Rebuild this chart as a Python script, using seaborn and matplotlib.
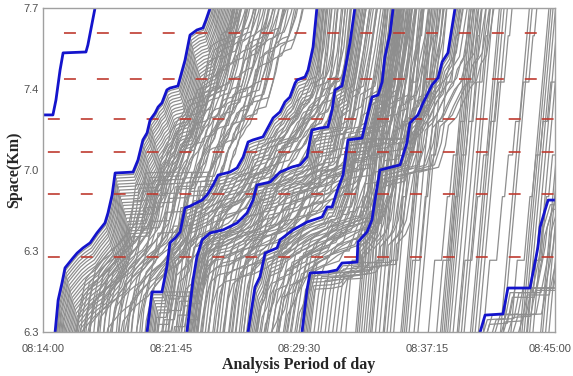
import matplotlib
matplotlib.use("Agg")
import pandas as pd
import matplotlib.pyplot as plt
import matplotlib.transforms as mtransforms
import seaborn as sns

# %%
# time axis: seconds after 08:14:00, space axis: km
x_ticks = [0, 465, 930, 1395, 1860]
x_labels = ["08:14:00", "08:21:45", "08:29:30", "08:37:15", "08:45:00"]
y_ticks = [6.3, 6.65, 7.0, 7.35, 7.7]
y_labels = ["6.3", "6.3", "7.0", "7.4", "7.7"]

# signal stop lines (km)
signals = [6.624, 6.896, 7.078, 7.220, 7.393, 7.592]

# highlighted vehicles (blue)
a_t = [0, 36, 47, 62, 73, 156, 163, 189, 210]
a_s = [7.238, 7.238, 7.302, 7.432, 7.506, 7.510, 7.540, 7.700, 7.85]

b_t = [20, 44, 55, 69, 80, 109, 124, 145, 171, 196, 225, 236, 251, 262, 327, 345,
       363, 378, 389, 407, 418, 432, 450, 461, 490, 516, 534, 559, 581, 592, 607, 660]
b_s = [6.00, 6.30, 6.438, 6.512, 6.577, 6.620, 6.641, 6.663, 6.685, 6.728, 6.771,
       6.814, 6.892, 6.987, 6.991, 7.043, 7.130, 7.160, 7.216, 7.246, 7.272, 7.290,
       7.346, 7.354, 7.363, 7.475, 7.583, 7.605, 7.614, 7.648, 7.700, 8.00]

c_t = [347, 378, 396, 432, 450, 461, 480, 498, 516, 534, 578, 596, 618, 636, 679, 705,
       727, 745, 763, 799, 836, 861, 879, 897, 916, 923, 952, 963, 981, 995, 1020]
c_s = [6.00, 6.30, 6.473, 6.473, 6.581, 6.685, 6.706, 6.732, 6.836, 6.844, 6.870,
       6.892, 6.935, 6.978, 6.991, 7.009, 7.056, 7.121, 7.130, 7.143, 7.225, 7.251,
       7.294, 7.315, 7.376, 7.389, 7.402, 7.432, 7.531, 7.700, 8.00]

d_t = [494, 523, 545, 559, 578, 607, 654, 705, 741, 763, 777, 825, 861, 905, 934, 959,
       970, 977, 1006, 1035, 1050, 1061, 1086, 1097, 1115, 1133, 1170]
d_s = [6.00, 6.30, 6.525, 6.624, 6.698, 6.728, 6.741, 6.771, 6.814, 6.870, 6.935,
       6.948, 6.991, 7.013, 7.022, 7.056, 7.130, 7.173, 7.181, 7.186, 7.259, 7.346,
       7.363, 7.432, 7.549, 7.700, 8.00]

g_t = [707, 745, 770, 788, 807, 850, 861, 908, 959, 1014, 1032, 1050, 1072, 1090,
       1108, 1159, 1177, 1195, 1217, 1232, 1242, 1261, 1272, 1303]
g_s = [6.00, 6.30, 6.494, 6.538, 6.641, 6.663, 6.698, 6.741, 6.775, 6.797, 6.840,
       6.840, 6.922, 6.978, 7.130, 7.138, 7.229, 7.315, 7.324, 7.380, 7.488, 7.592,
       7.700, 8.00]

e_t = [911, 941, 959, 970, 1032, 1068, 1086, 1141, 1144, 1177, 1195, 1206, 1224, 1297,
       1322, 1333, 1362, 1381, 1413, 1435, 1450, 1471, 1497, 1537]
e_s = [6.00, 6.30, 6.481, 6.555, 6.559, 6.568, 6.598, 6.602, 6.689, 6.732, 6.784,
       6.870, 7.000, 7.022, 7.117, 7.203, 7.238, 7.290, 7.367, 7.398, 7.467, 7.506,
       7.700, 8.00]

f_t = [1560, 1588, 1606, 1671, 1689, 1769, 1787, 1798, 1806, 1824, 1835, 1860, 1900]
f_s = [6.20, 6.30, 6.373, 6.378, 6.490, 6.490, 6.598, 6.667, 6.754, 6.827, 6.870,
       6.870, 6.870]

# other vehicles following each highlighted one: lag in time (s) and space (km)
b_lag_t = [2, 5, 7, 10, 12, 15, 18, 20, 23, 26, 29, 32, 35, 38, 41, 44, 47, 50, 53, 57,
           61, 75, 88, 100, 112, 125, 138, 150, 163, 176, 190, 204, 218, 232, 246, 262,
           278, 295, 312, 68, 82, 95, 106, 118, 131, 144, 156, 169, 183, 197, 211, 225,
           239, 254, 270, 286, 303, 320, 330]
b_lag_s = [0.010, 0.022, 0.035, 0.048, 0.060, 0.074, 0.088, 0.100, 0.114, 0.128, 0.140,
           0.155, 0.168, 0.180, 0.195, 0.210, 0.222, 0.236, 0.250, 0.262, 0.276, 0.050,
           0.066, 0.080, 0.000, 0.020, 0.034, 0.050, 0.000, 0.016, 0.030, 0.046, 0.060,
           0.000, 0.022, 0.040, 0.000, 0.018, 0.036, 0.120, 0.180, 0.240, 0.150, 0.100,
           0.210, 0.130, 0.260, 0.090, 0.170, 0.110, 0.230, 0.070, 0.150, 0.100, 0.080,
           0.120, 0.060, 0.090, 0.050]
c_lag_t = [3, 6, 9, 13, 17, 21, 26, 40, 52, 64, 76, 88, 100, 112, 124, 136,
           15, 24, 33, 45, 58, 70, 82, 95, 106, 118, 130, 140]
c_lag_s = [0.012, 0.025, 0.038, 0.050, 0.064, 0.078, 0.090, 0.000, 0.015, 0.030, 0.000,
           0.020, 0.040, 0.000, 0.018, 0.000, 0.110, 0.140, 0.170, 0.120, 0.200, 0.080,
           0.150, 0.100, 0.180, 0.060, 0.120, 0.050]
d_lag_t = [3, 6, 9, 12, 16, 20, 24, 28, 40, 52, 64, 78, 92, 106, 120, 134, 148, 162,
           176, 190, 204, 14, 22, 32, 44, 56, 70, 84, 98, 112, 126, 141, 156, 170, 185,
           198, 212]
d_lag_s = [0.012, 0.025, 0.038, 0.050, 0.064, 0.078, 0.090, 0.104, 0.000, 0.015, 0.030,
           0.000, 0.020, 0.040, 0.000, 0.018, 0.036, 0.000, 0.020, 0.000, 0.015, 0.120,
           0.150, 0.180, 0.130, 0.210, 0.090, 0.160, 0.110, 0.190, 0.070, 0.140, 0.100,
           0.060, 0.120, 0.080, 0.050]
g_lag_t = [3, 6, 10, 14, 18, 22, 34, 46, 58, 70, 84, 98, 112, 126, 140, 155, 170, 184,
           16, 26, 38, 50, 62, 76, 90, 104, 118, 132, 147, 162, 177, 190]
g_lag_s = [0.012, 0.025, 0.040, 0.054, 0.068, 0.082, 0.000, 0.016, 0.032, 0.000, 0.020,
           0.040, 0.000, 0.018, 0.000, 0.020, 0.000, 0.012, 0.100, 0.130, 0.160, 0.110,
           0.190, 0.080, 0.140, 0.060, 0.120, 0.090, 0.050, 0.110, 0.070, 0.040]
e_lag_t = [3, 6, 10, 14, 18, 30, 42, 55, 68, 82, 96, 110, 125, 140]
e_lag_s = [0.012, 0.026, 0.040, 0.055, 0.070, 0.000, 0.016, 0.032, 0.000, 0.020, 0.000,
           0.015, 0.000, 0.010]
f_lag_t = [8, 16, 26, 40, 55, 70, 85, 100, 120, 140]
f_lag_s = [0.020, 0.040, 0.000, 0.020, 0.000, 0.030, 0.000, 0.010, 0.000, 0.000]

# free-flowing vehicles: path shape relative to entry time
go_t = [-15, 0, 105, 120]
go_s = [6.10, 6.30, 7.70, 7.90]
stop_t = [-15, 0, 23, 48, 69, 77, 91, 106, 117, 132, 145, 165, 180, 185, 194, 210]
stop_s = [6.10, 6.30, 6.61, 6.61, 6.885, 6.885, 7.065, 7.065, 7.21, 7.21, 7.38, 7.38,
          7.58, 7.58, 7.70, 7.91]
go_entry = [1136, 1142, 1149, 1157, 1166, 1174, 1183, 1195, 1208, 1222, 1236, 1250,
            1262, 1274, 1300, 1306, 1313, 1330, 1348, 1362, 1444, 1450, 1457, 1463,
            1470, 1478, 1490, 1505, 1520, 1530, 1553, 1560, 1570, 1582, 1662, 1672,
            1733, 1740, 1748, 1757, 1768, 1780, 1808, 1815, 1826, 1838]
stop_entry = [1100, 1190, 1240, 1320, 1400, 1430, 1510, 1600, 1700, 1760]

# %%
blue = {"a": (a_t, a_s), "b": (b_t, b_s), "c": (c_t, c_s), "d": (d_t, d_s),
        "g": (g_t, g_s), "e": (e_t, e_s), "f": (f_t, f_s)}
lags = {"b": (b_lag_t, b_lag_s), "c": (c_lag_t, c_lag_s), "d": (d_lag_t, d_lag_s),
        "g": (g_lag_t, g_lag_s), "e": (e_lag_t, e_lag_s), "f": (f_lag_t, f_lag_s)}

rows = []
for key, (lt, ls) in lags.items():
    tt, ss = blue[key]
    for i, (dt, ds) in enumerate(zip(lt, ls)):
        for t, s in zip(tt, ss):
            rows.append((f"{key}{i}", t + dt, s - ds))
for i, t0 in enumerate(go_entry):
    for t, s in zip(go_t, go_s):
        rows.append((f"go{i}", t0 + t, s))
for i, t0 in enumerate(stop_entry):
    for t, s in zip(stop_t, stop_s):
        rows.append((f"st{i}", t0 + t, s))
gray_df = pd.DataFrame(rows, columns=["veh", "t", "s"])

blue_df = pd.DataFrame(
    [(k, t, s) for k, (tt, ss) in blue.items() for t, s in zip(tt, ss)],
    columns=["veh", "t", "s"])

# %%
sns.set_theme(style="white")
plt.rcParams["font.family"] = ["Liberation Sans", "DejaVu Sans"]
plt.rcParams["lines.scale_dashes"] = False

fig = plt.figure(figsize=(5.73, 3.76), dpi=100)
ax = fig.add_axes([43 / 573, 1 - 332 / 376, 512 / 573, 324 / 376])

sns.lineplot(data=gray_df, x="t", y="s", units="veh", estimator=None, sort=False,
             color="#8e8e8e", linewidth=0.9, legend=False, ax=ax)

for y in signals:
    off = 8.6 if y > 7.3 else 20.2
    ax.axhline(y, color="#bf3b30", linewidth=1.2, linestyle=(off, (8.6, 15.1)))

sns.lineplot(data=blue_df, x="t", y="s", units="veh", estimator=None, sort=False,
             color="#1414cc", linewidth=2.0, legend=False, ax=ax)

ax.set_xlim(0, 1860)
ax.set_ylim(6.3, 7.7)
ax.set_xticks(x_ticks)
ax.set_xticklabels(x_labels)
ax.set_yticks(y_ticks)
ax.set_yticklabels(y_labels)
ax.tick_params(axis="both", length=0, labelsize=8, labelcolor="#505050")
ax.tick_params(axis="x", pad=9)
ax.tick_params(axis="y", pad=3)
# last time label sits at the figure edge; nudge it inside
last = ax.get_xticklabels()[-1]
last.set_transform(last.get_transform()
                   + mtransforms.ScaledTranslation(-0.05, 0, fig.dpi_scale_trans))
for sp in ax.spines.values():
    sp.set_color("#a0a0a0")
    sp.set_linewidth(1.0)

ax.set_xlabel("Analysis Period of day", fontfamily="Liberation Serif",
              fontweight="bold", fontsize=11.5, labelpad=2)
ax.set_ylabel("Space(Km)", fontfamily="Liberation Serif", fontweight="bold",
              fontsize=11.5, labelpad=1)

fig.savefig("out.png", dpi=100)
